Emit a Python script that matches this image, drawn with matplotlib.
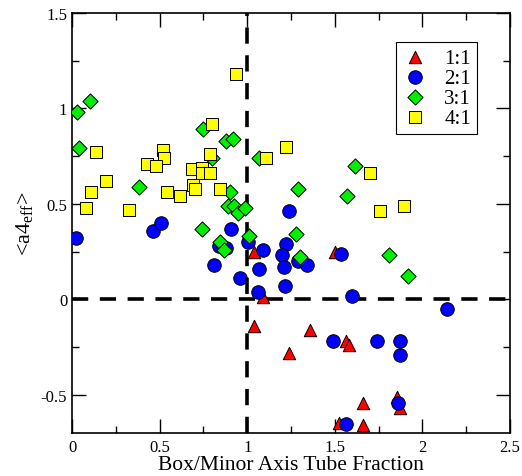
import numpy as np
import matplotlib
matplotlib.use('Agg')
import matplotlib.pyplot as plt

plt.rcParams['font.family'] = ['Liberation Serif', 'DejaVu Serif']
plt.rcParams['mathtext.fontset'] = 'custom'
plt.rcParams['mathtext.rm'] = 'Liberation Serif'
plt.rcParams['mathtext.it'] = 'Liberation Serif:italic'

# 1:1 red triangles
x_11 = [1.04, 1.09, 1.04, 1.24, 1.36, 1.50, 1.565, 1.58, 1.525, 1.66, 1.66, 1.855, 1.87]
y_11 = [0.25, 0.01, -0.14, -0.28, -0.16, 0.25, -0.22, -0.24, -0.645, -0.54, -0.66, -0.51, -0.57]

# 2:1 blue circles
x_21 = [0.02, 0.46, 0.51, 0.91, 0.81, 0.96, 0.84, 0.88, 1.005, 1.07, 1.06, 1.09, 1.24, 1.22,
        1.20, 1.21, 1.215, 1.29, 1.34, 1.535, 1.60, 2.14, 1.49, 1.74, 1.87, 1.87, 1.86, 1.565]
y_21 = [0.32, 0.36, 0.40, 0.37, 0.18, 0.11, 0.28, 0.27, 0.30, 0.16, 0.04, 0.26, 0.46, 0.29,
        0.23, 0.17, 0.07, 0.20, 0.18, 0.24, 0.02, -0.05, -0.22, -0.22, -0.22, -0.29, -0.545, -0.65]

# 3:1 green diamonds
x_31 = [0.03, 0.10, 0.04, 0.75, 0.88, 0.92, 0.80, 1.07, 1.615, 0.38, 0.90, 0.89, 0.925,
        0.95, 0.99, 0.74, 1.01, 0.845, 0.87, 1.29, 1.57, 1.28, 1.30, 1.81, 1.92]
y_31 = [0.98, 1.04, 0.79, 0.89, 0.83, 0.84, 0.74, 0.74, 0.70, 0.59, 0.56, 0.49, 0.49,
        0.45, 0.48, 0.37, 0.33, 0.30, 0.26, 0.58, 0.54, 0.34, 0.22, 0.23, 0.12]

# 4:1 yellow squares
x_41 = [0.935, 0.80, 0.135, 0.52, 0.525, 0.43, 0.48, 0.79, 1.11, 1.22, 1.70, 1.76, 1.895,
        0.685, 0.74, 0.74, 0.79, 0.69, 0.70, 0.845, 0.54, 0.615, 0.195, 0.11, 0.08, 0.325]
y_41 = [1.18, 0.92, 0.77, 0.78, 0.74, 0.71, 0.70, 0.76, 0.74, 0.80, 0.66, 0.46, 0.49,
        0.68, 0.69, 0.66, 0.66, 0.60, 0.58, 0.58, 0.56, 0.54, 0.62, 0.56, 0.48, 0.47]

fig = plt.figure(figsize=(5.22, 4.77), dpi=100)
ax = fig.add_axes([0.138, 0.090, 0.839, 0.881])

# reference lines
ax.plot([0, 2.5], [0, 0], color='black', lw=2.6, dashes=(4.5, 3.2), zorder=1)

ax.scatter(x_11, y_11, marker='^', s=80, c='red', edgecolors='black', linewidths=0.7,
           label='1:1', zorder=2)
ax.scatter(x_21, y_21, marker='o', s=95, c='blue', edgecolors='black', linewidths=0.7,
           label='2:1', zorder=3)
ax.plot([1, 1], [-0.7, 1.5], color='black', lw=2.6, dashes=(4.5, 3.2), zorder=3.5)
ax.scatter(x_31, y_31, marker='D', s=60, c='#00ee00', edgecolors='black', linewidths=0.7,
           label='3:1', zorder=4)
ax.scatter(x_41, y_41, marker='s', s=72, c='#ffff00', edgecolors='black', linewidths=0.7,
           label='4:1', zorder=5)

ax.set_xlim(0, 2.5)
ax.set_ylim(-0.7, 1.5)
ax.set_xticks([0, 0.5, 1, 1.5, 2, 2.5])
ax.set_xticklabels(['0', '0.5', '1', '1.5', '2', '2.5'])
ax.set_yticks([-0.5, 0, 0.5, 1, 1.5])
ax.set_yticklabels(['-0.5', '0', '0.5', '1', '1.5'])
ax.set_xticks(np.arange(0.25, 2.5, 0.5), minor=True)
ax.set_yticks([-0.25, 0.25, 0.75, 1.25], minor=True)
ax.tick_params(which='both', direction='in', top=True, right=True, labelsize=12, width=1)
ax.tick_params(which='major', length=10)
ax.tick_params(which='minor', length=5)
ax.tick_params(axis='x', pad=4)
for sp in ax.spines.values():
    sp.set_linewidth(1.2)

ax.set_xlabel('Box/Minor Axis Tube Fraction', fontsize=15.5, labelpad=0)
ax.set_ylabel(r'<a4$_{\mathrm{eff}}$>', fontsize=16, labelpad=4)

leg = ax.legend(loc='upper right', bbox_to_anchor=(0.925, 0.931), borderaxespad=0,
                fontsize=15, fancybox=False, framealpha=1, edgecolor='black',
                handletextpad=0.8, labelspacing=0.02, borderpad=0.3, handlelength=1.2)
leg.get_frame().set_linewidth(0.8)

fig.savefig('out.png', dpi=100)
